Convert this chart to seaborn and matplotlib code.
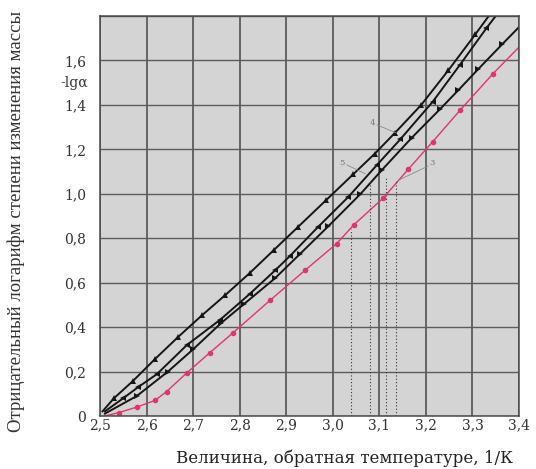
import matplotlib
matplotlib.use("Agg")
import matplotlib.pyplot as plt
import seaborn as sns
import pandas as pd

# --- данные ---
x_ticks = [2.5, 2.6, 2.7, 2.8, 2.9, 3.0, 3.1, 3.2, 3.3, 3.4]
x_labels = ["2,5", "2,6", "2,7", "2,8", "2,9", "3,0", "3,1", "3,2", "3,3", "3,4"]
y_ticks = [0.0, 0.2, 0.4, 0.6, 0.8, 1.0, 1.2, 1.4, 1.6, 1.8]
y_labels = ["0", "0,2", "0,4", "0,6", "0,8", "1,0", "1,2", "1,4", "1,6", ""]

line_a_x = [2.505, 2.53, 2.571, 2.618, 2.668, 2.719, 2.769, 2.822, 2.874, 2.925,
            2.985, 3.044, 3.09, 3.134, 3.19, 3.248, 3.306, 3.335]
line_a_y = [0.02, 0.08, 0.158, 0.256, 0.356, 0.453, 0.544, 0.644, 0.748, 0.85,
            0.97, 1.088, 1.18, 1.275, 1.40, 1.555, 1.717, 1.80]

line_b_x = [2.51, 2.55, 2.582, 2.622, 2.687, 2.758, 2.822, 2.876, 2.908, 2.968,
            3.033, 3.095, 3.145, 3.215, 3.273, 3.33, 3.35]
line_b_y = [0.02, 0.08, 0.13, 0.188, 0.32, 0.433, 0.55, 0.655, 0.72, 0.85,
            0.985, 1.13, 1.245, 1.415, 1.58, 1.745, 1.80]

line_c_x = [2.51, 2.579, 2.646, 2.70, 2.76, 2.81, 2.876, 2.930, 2.99, 3.059,
            3.106, 3.17, 3.23, 3.27, 3.312, 3.364, 3.40]
line_c_y = [0.01, 0.09, 0.20, 0.30, 0.418, 0.505, 0.62, 0.73, 0.853, 0.998,
            1.108, 1.253, 1.38, 1.467, 1.56, 1.673, 1.75]

red_x = [2.51, 2.54, 2.579, 2.618, 2.643, 2.687, 2.736, 2.786, 2.865, 2.94,
         3.008, 3.045, 3.108, 3.162, 3.215, 3.273, 3.344, 3.40]
red_y = [0.00, 0.015, 0.04, 0.07, 0.11, 0.195, 0.285, 0.375, 0.52, 0.655,
         0.775, 0.86, 0.98, 1.11, 1.235, 1.375, 1.54, 1.66]

# пунктирные вертикали (x и верхняя граница)
drop_x = [3.04, 3.08, 3.115, 3.135]
drop_top = [0.84, 1.06, 1.08, 1.06]

# номера кривых и выноски
curve_numbers = ["4", "5", "3"]
number_x = [3.085, 3.02, 3.213]
number_y = [1.32, 1.14, 1.14]
leader_x0 = [3.095, 3.03, 3.205]
leader_y0 = [1.31, 1.13, 1.125]
leader_x1 = [3.135, 3.07, 3.14]
leader_y1 = [1.275, 1.09, 1.06]


def main():
    sns.set_theme(style="whitegrid", rc={
        "axes.facecolor": "#d4d4d4",
        "grid.color": "#474747",
        "grid.linewidth": 1.1,
        "axes.edgecolor": "#4a4a4a",
    })

    fig = plt.figure(figsize=(5.36, 4.69), dpi=100)
    ax = fig.add_axes([100 / 536, 1 - 416 / 469, 419 / 536, 400 / 469])
    ax.yaxis.grid(True, color="#5c5c5c", lw=1.0)

    series = [
        (line_a_x, line_a_y, "#151515", "^", 1.4),
        (line_b_x, line_b_y, "#151515", "<", 1.4),
        (line_c_x, line_c_y, "#151515", ">", 1.4),
        (red_x, red_y, "#e0356a", "o", 1.0),
    ]
    for xs, ys, col, mk, lw in series:
        df = pd.DataFrame({"x": xs, "y": ys})
        sns.lineplot(data=df, x="x", y="y", ax=ax, color=col, lw=lw,
                     marker=mk, markersize=4, markeredgewidth=0,
                     markevery=slice(1, -1), estimator=None, sort=False)

    for dx, dt in zip(drop_x, drop_top):
        ax.plot([dx, dx], [0, dt], color="#333333", lw=0.8, ls=(0, (1, 2)))

    for t, nx, ny in zip(curve_numbers, number_x, number_y):
        ax.text(nx, ny, t, fontsize=6, color="#777777", ha="center", va="center",
                family="DejaVu Serif")
    for x0, y0, x1, y1 in zip(leader_x0, leader_y0, leader_x1, leader_y1):
        ax.plot([x0, x1], [y0, y1], color="#8a8a8a", lw=0.6)

    ax.set_xlim(2.5, 3.4)
    ax.set_ylim(0, 1.8)
    ax.set_xticks(x_ticks)
    ax.set_xticklabels(x_labels)
    ax.set_yticks(y_ticks)
    ax.set_yticklabels(y_labels)
    ax.tick_params(axis="x", pad=2, labelsize=10, colors="#333333", length=0)
    ax.tick_params(axis="y", pad=10, labelsize=10, colors="#333333", length=0)
    for lab in ax.get_xticklabels() + ax.get_yticklabels():
        lab.set_family("DejaVu Serif")
    ax.set_xlabel("")
    ax.set_ylabel("")
    for s in ax.spines.values():
        s.set_linewidth(1.1)

    ax.text(-0.028, 1.5, "-lgα", transform=ax.get_yaxis_transform(),
            ha="right", va="center", fontsize=10, color="#333333",
            family="DejaVu Serif")

    fig.text(345 / 536, 1 - 458 / 469, "Величина, обратная температуре, 1/К",
             ha="center", va="center", fontsize=12, color="#222222",
             family="DejaVu Serif")
    fig.text(16 / 536, 1 - 221 / 469,
             "Отрицательный логарифм степени изменения массы",
             rotation=90, ha="center", va="center", fontsize=13.5,
             color="#333333", family="Liberation Serif")

    fig.savefig("out.png", dpi=100, facecolor="white")


if __name__ == "__main__":
    main()
